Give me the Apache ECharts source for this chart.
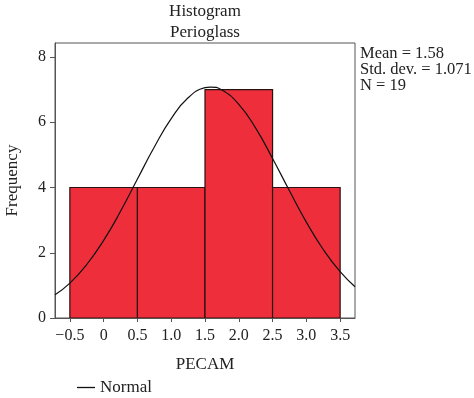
<!DOCTYPE html>
<html><head><meta charset="utf-8">
<script src="https://cdn.jsdelivr.net/npm/echarts@6/dist/echarts.min.js"></script>
<style>html,body{margin:0;padding:0;background:#fff}#c{width:474px;height:398px}</style>
</head><body><div id="c"></div>
<script>
// Histogram bins (PECAM) and frequencies
var binStarts = [-0.5, 0.5, 1.5, 2.5];
var binEnds   = [0.5, 1.5, 2.5, 3.5];
var counts    = [4, 4, 7, 4];
// Normal curve points
var curveX = [-0.72, -0.5, -0.25, 0, 0.25, 0.5, 0.75, 1.0, 1.25, 1.5, 1.58, 1.75, 2.0, 2.25, 2.5, 2.75, 3.0, 3.25, 3.5, 3.72];
var curveY = [0.71, 1.07, 1.64, 2.38, 3.27, 4.26, 5.24, 6.11, 6.75, 7.06, 7.08, 6.99, 6.55, 5.82, 4.89, 3.90, 2.94, 2.10, 1.42, 0.96];
var xTicks = [-0.5, 0, 0.5, 1.0, 1.5, 2.0, 2.5, 3.0, 3.5];
var yTicks = [0, 2, 4, 6, 8];
var statsLines = ['Mean = 1.58', 'Std. dev. = 1.071', 'N = 19'];

var FONT = '"Liberation Serif", "DejaVu Serif", serif';
var histData = binStarts.map(function (s, i) { return [s, binEnds[i], counts[i]]; });
var curveData = curveX.map(function (x, i) { return [x, curveY[i]]; });

var chart = echarts.init(document.getElementById('c'));
chart.setOption({
  animation: false,
  textStyle: { fontFamily: FONT },
  grid: { left: 55, right: 119, top: 43, bottom: 80, show: true, borderColor: '#555', borderWidth: 1, outerBoundsMode: 'none', containLabel: false },
  xAxis: {
    type: 'value', min: -0.72, max: 3.72,
    name: 'PECAM', nameLocation: 'middle', nameGap: 38,
    nameTextStyle: { fontFamily: FONT, fontSize: 17, color: '#222' },
    splitLine: { show: false },
    axisLine: { show: true, onZero: false, lineStyle: { color: '#555' } },
    axisTick: { show: true, customValues: xTicks, length: 4, lineStyle: { color: '#555' } },
    axisLabel: {
      customValues: xTicks, margin: 10, fontFamily: FONT, fontSize: 16, color: '#222',
      formatter: function (v) { if (v === 0) return '0'; return (v < 0 ? '\u2212' : '') + Math.abs(v).toFixed(1); }
    }
  },
  yAxis: {
    type: 'value', min: 0, max: 8.43,
    name: 'Frequency', nameLocation: 'middle', nameGap: 34, nameRotate: 90,
    nameTextStyle: { fontFamily: FONT, fontSize: 17, color: '#222' },
    splitLine: { show: false },
    axisLine: { show: true, onZero: false, lineStyle: { color: '#555' } },
    axisTick: { show: true, customValues: yTicks, length: 5, lineStyle: { color: '#555' } },
    axisLabel: { customValues: yTicks, margin: 9, fontFamily: FONT, fontSize: 16, color: '#222' }
  },
  legend: {
    data: [{ name: 'Normal', icon: 'rect' }], left: 72, top: 374, itemWidth: 18, itemHeight: 1.3, itemGap: 8,
    textStyle: { fontFamily: FONT, fontSize: 17, color: '#222' }
  },
  graphic: [
    { type: 'text', x: 205, y: 1, style: { text: 'Histogram\nPerioglass', fontFamily: FONT, fontSize: 17, lineHeight: 21, fill: '#222', align: 'center' } },
    { type: 'text', x: 360, y: 46, style: { text: statsLines.join('\n'), fontFamily: FONT, fontSize: 16.5, lineHeight: 16, fill: '#222', align: 'left' } }
  ],
  series: [
    {
      type: 'custom', name: 'hist', data: histData, clip: true,
      renderItem: function (params, api) {
        var p0 = api.coord([api.value(0), api.value(2)]);
        var p1 = api.coord([api.value(1), 0]);
        return { type: 'rect', shape: { x: p0[0], y: p0[1], width: p1[0] - p0[0], height: p1[1] - p0[1] },
          style: { fill: '#ee2f3b', stroke: '#2a1010', lineWidth: 1.2 } };
      },
      encode: { x: [0, 1], y: 2 }
    },
    {
      type: 'line', name: 'Normal', data: curveData, smooth: true, symbol: 'none', clip: true,
      lineStyle: { color: '#111', width: 1.2 }, itemStyle: { color: '#111' }
    }
  ]
});
</script></body></html>
